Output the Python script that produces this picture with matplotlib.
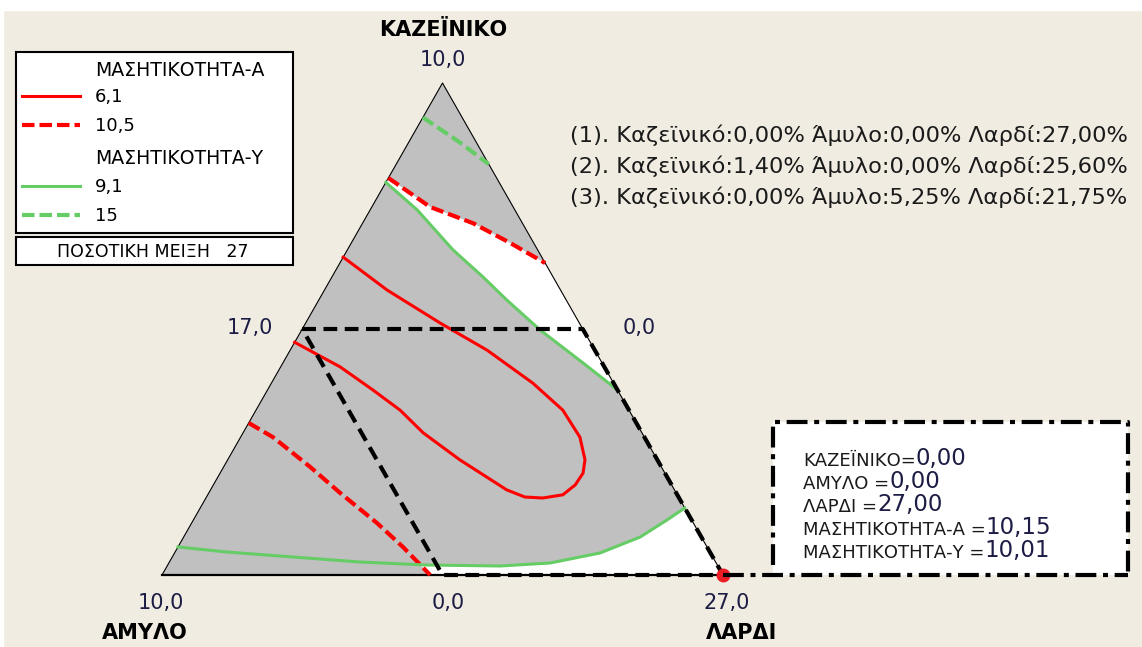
import numpy as np
import matplotlib.pyplot as plt
from matplotlib.patches import Polygon, Rectangle

plt.rcParams['font.family'] = ['DejaVu Sans']

# mixture: casein (top), amylo (bottom left), lard (bottom right), total 27
TOTAL = 27.0
CAS_MAX = 10.0
AMY_MAX = 10.0

# contour lines, as casein / amylo amounts
# MASTIKOTITA-A = 6,1 (red solid, U shape)
ma61_cas = [6.46, 5.79, 5.12, 4.57, 3.90, 3.35, 2.80, 2.34, 2.07, 1.83, 1.63, 1.565,
            1.585, 1.73, 2.34, 2.89, 3.35, 3.76, 4.23, 4.73]
ma61_amy = [3.54, 3.09, 2.48, 1.92, 1.44, 1.18, 1.15, 1.29, 1.46, 1.72, 2.04, 2.43,
            2.74, 2.99, 3.52, 3.90, 4.08, 4.36, 4.71, 5.27]
# MASTIKOTITA-A = 10,5 (red dashed), two pieces
ma105_top_cas = [8.07, 7.48, 7.15, 6.75, 6.34]
ma105_top_amy = [1.93, 1.48, 0.88, 0.42, 0.0]
ma105_low_cas = [3.09, 2.80, 2.195, 1.667, 1.057, 0.569, 0.0]
ma105_low_amy = [6.91, 6.62, 6.26, 5.99, 5.64, 5.42, 5.22]
# MASTIKOTITA-Y = 9,1 (green solid), two pieces
my91_top_cas = [7.98, 7.42, 6.61, 6.06, 5.59, 4.98, 4.31, 3.76]
my91_top_amy = [2.02, 1.74, 1.51, 1.25, 1.06, 0.77, 0.34, 0.0]
my91_low_cas = [0.57, 0.467, 0.366, 0.264, 0.203, 0.183, 0.244, 0.447, 0.772, 1.118, 1.362]
my91_low_amy = [9.43, 8.61, 7.48, 6.34, 5.18, 3.88, 2.96, 1.97, 1.09, 0.44, 0.0]
# MASTIKOTITA-Y = 15 (green dashed)
my15_cas = [9.3, 8.8, 8.35]
my15_amy = [0.7, 0.3, 0.0]

# where the lower 10,5 and 9,1 lines cross
cross_cas, cross_amy = 0.25, 5.31

# constraint region (dashed black)
lim_cas = [5, 5, 0, 0, 5]
lim_amy = [5, 0, 0, 5, 5]

# selected point
pt_cas, pt_amy = 0.0, 0.0
pt_ma, pt_my = 10.15, 10.01

design_points = [(0.00, 0.00, 27.00), (1.40, 0.00, 25.60), (0.00, 5.25, 21.75)]

RED = '#ff0000'
GREEN = '#66cc66'
GRAY = '#c0c0c0'
BG = '#f0ece2'
NUM = '#1c1c44'

W, H = 1142, 647


def tern(cas, amy):
    cas = np.asarray(cas, float)
    amy = np.asarray(amy, float)
    return 1 - amy / AMY_MAX - 0.5 * cas / CAS_MAX, cas / CAS_MAX


def fmt(v, n=2):
    return f"{v:.{n}f}".replace('.', ',')


fig = plt.figure(figsize=(W / 100, H / 100), dpi=100, facecolor=BG)
fig.patches.append(Rectangle((0, 1 - 10 / H), 1, 10 / H, transform=fig.transFigure,
                             color='white', zorder=-1))
fig.patches.append(Rectangle((0, 0), 3 / W, 1, transform=fig.transFigure,
                             color='white', zorder=-1))

ax = fig.add_axes([162 / W, (H - 575) / H, 561 / W, 492 / H])
ax.set_xlim(0, 1)
ax.set_ylim(0, 1)
ax.axis('off')

# gray region, then the white (feasible) parts
ax.add_patch(Polygon([(0, 0), (1, 0), (0.5, 1)], closed=True, fc=GRAY, ec='none'))
wx1, wy1 = tern(my91_top_cas + ma105_top_cas[::-1], my91_top_amy + ma105_top_amy[::-1])
ax.add_patch(Polygon(np.column_stack([wx1, wy1]), fc='white', ec='none'))
low_c = [c for c, a in zip(my91_low_cas, my91_low_amy) if a < cross_amy]
low_a = [a for a in my91_low_amy if a < cross_amy]
wx2, wy2 = tern([cross_cas] + low_c + [0, 0], [cross_amy] + low_a + [0, ma105_low_amy[-1]])
ax.add_patch(Polygon(np.column_stack([wx2, wy2]), fc='white', ec='none'))

# triangle edges
ax.plot([0, 0.5, 1], [0, 1, 0], color='black', lw=0.8, clip_on=False)
ax.plot([0, 1], [0, 0], color='black', lw=1.6, clip_on=False)

# contours
ax.plot(*tern(ma61_cas, ma61_amy), color=RED, lw=2.2)
for c, a in [(ma105_top_cas, ma105_top_amy), (ma105_low_cas, ma105_low_amy)]:
    ax.plot(*tern(c, a), color=RED, lw=3, dashes=(3, 1.2), clip_on=False)
for c, a in [(my91_top_cas, my91_top_amy), (my91_low_cas, my91_low_amy)]:
    ax.plot(*tern(c, a), color=GREEN, lw=2.2)
ax.plot(*tern(my15_cas, my15_amy), color=GREEN, lw=3, dashes=(3, 1.2))

# constraint lines
ax.plot(*tern(lim_cas, lim_amy), color='black', lw=3, dashes=(3.3, 1.8), clip_on=False)

# selected point
px, py = tern(pt_cas, pt_amy)
ax.plot(px, py, 'o', color='#ee1c24', ms=9, zorder=6, clip_on=False)

# layout layer in pixels
lay = fig.add_axes([0, 0, 1, 1], zorder=5)
lay.set_xlim(0, W)
lay.set_ylim(H, 0)
lay.axis('off')
lay.patch.set_alpha(0)

dot = lay.transData.inverted().transform(ax.transData.transform((float(px), float(py))))
dd = (5, 1.6, 1.2, 1.6)
lay.add_patch(Rectangle((773, 422), 355, dot[1] - 422, fc='white', ec='none'))
lay.plot([dot[0], 1128], [dot[1], dot[1]], color='black', lw=3, dashes=dd)
lay.plot([773, 773, 1128, 1128], [565, 422, 422, dot[1]], color='black', lw=3, dashes=dd)

vals = [("ΚΑΖΕΪΝΙΚΟ", pt_cas), ("ΑΜΥΛΟ ", pt_amy), ("ΛΑΡΔΙ ", TOTAL - pt_cas - pt_amy),
        ("ΜΑΣΗΤΙΚΟΤΗΤΑ-Α ", pt_ma), ("ΜΑΣΗΤΙΚΟΤΗΤΑ-Υ ", pt_my)]
for i, (name, v) in enumerate(vals):
    t = lay.text(803, 466 + 23 * i, name + "=", fontsize=13, va='baseline', color='#1a1a1a')
    lay.annotate(fmt(v), xy=(1, 0), xycoords=t, fontsize=16.5, va='bottom', color=NUM)

for i, (c, a, l) in enumerate(design_points):
    lay.text(570, 135 + 31 * i,
             f"({i + 1}). Καζεϊνικό:{fmt(c)}% Άμυλο:{fmt(a)}% Λαρδί:{fmt(l)}%",
             fontsize=16.2, va='center', color='#1a1a1a')

# vertex and axis labels
lay.text(443, 30, "ΚΑΖΕΪΝΙΚΟ", fontsize=15, weight='bold', ha='center', va='center')
lay.text(443, 60, fmt(CAS_MAX, 1), fontsize=15, ha='center', va='center', color=NUM)
lay.text(145, 633, "ΑΜΥΛΟ", fontsize=15, weight='bold', ha='center', va='center')
lay.text(161, 603, fmt(AMY_MAX, 1), fontsize=15, ha='center', va='center', color=NUM)
lay.text(742, 633, "ΛΑΡΔΙ", fontsize=15, weight='bold', ha='center', va='center')
lay.text(727, 603, fmt(TOTAL, 1), fontsize=15, ha='center', va='center', color=NUM)
lay.text(448, 603, fmt(0, 1), fontsize=15, ha='center', va='center', color=NUM)
lay.text(273, 328, fmt(TOTAL - CAS_MAX, 1), fontsize=15, ha='right', va='center', color=NUM)
lay.text(623, 328, fmt(0, 1), fontsize=15, ha='left', va='center', color=NUM)

# legend
lay.add_patch(Rectangle((16, 52), 277, 181, fc='white', ec='black', lw=1.5))
lay.add_patch(Rectangle((16, 237), 277, 28, fc='white', ec='black', lw=1.5))
lay.text(95, 70, "ΜΑΣΗΤΙΚΟΤΗΤΑ-Α", fontsize=13.6, va='center')
lay.text(95, 158, "ΜΑΣΗΤΙΚΟΤΗΤΑ-Υ", fontsize=13.6, va='center')
rows = [(96, RED, None, "6,1"), (125, RED, (3, 1.2), "10,5"),
        (186, GREEN, None, "9,1"), (215, GREEN, (3, 1.2), "15")]
for y, col, ds, lab in rows:
    if ds:
        lay.plot([22, 80], [y, y], color=col, lw=3, dashes=ds)
    else:
        lay.plot([22, 80], [y, y], color=col, lw=2.2)
    lay.text(95, y + 1, lab, fontsize=13, va='center')
lay.text(153, 252, "ΠΟΣΟΤΙΚΗ ΜΕΙΞΗ   " + f"{TOTAL:.0f}", fontsize=12.5, ha='center', va='center')

fig.savefig('out.png', dpi=100, facecolor=BG)
